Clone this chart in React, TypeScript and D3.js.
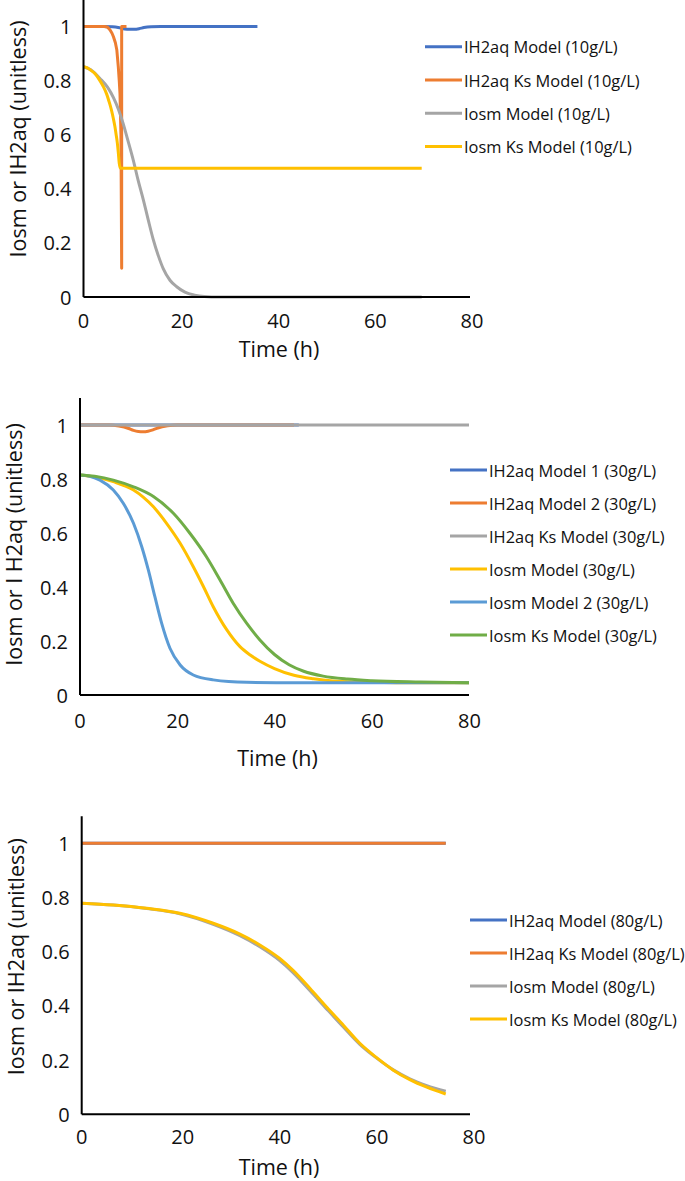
import React from "react";
import * as d3 from "d3";

// ---------- shared ticks ----------
const xTicks = [0, 20, 40, 60, 80];
const yTicks = [0, 0.2, 0.4, 0.6, 0.8, 1];
const yTickLabelsA = ["0", "0.2", "0.4", "0 6", "0.8", "1"];
const yTickLabelsB = ["0", "0.2", "0.4", "0.6", "0.8", "1"];

// ---------- chart 1 (10 g/L) ----------
const c1Names = ["IH2aq Model (10g/L)", "IH2aq Ks Model (10g/L)", "Iosm Model (10g/L)", "Iosm Ks Model (10g/L)"];
const c1BlueT = [0, 4, 6, 7.5, 8.5, 9.5, 10.5, 11.5, 12.5, 14, 16, 20, 25, 30, 36];
const c1BlueV = [1, 1, 0.999, 0.995, 0.991, 0.99, 0.99, 0.992, 0.996, 0.999, 1, 1, 1, 1, 1];
const c1OrangeT = [0, 4.4, 5, 5.5, 5.9, 6.2, 6.6, 6.9, 7.2, 7.4, 7.55, 7.75, 7.9, 7.9, 8.9];
const c1OrangeV = [1, 1, 0.997, 0.987, 0.975, 0.962, 0.94, 0.913, 0.852, 0.8, 0.753, 0.6, 0.106, 1, 1];
const c1GrayT = [0, 1.5, 3.4, 5, 6.2, 7.2, 8.2, 9.2, 10.3, 11.3, 12.4, 13.4, 14.4, 15.5, 16.5, 17.9, 19.3, 21, 23, 25, 28, 40, 55, 70];
const c1GrayV = [0.851, 0.84, 0.808, 0.775, 0.737, 0.695, 0.642, 0.578, 0.506, 0.432, 0.358, 0.285, 0.215, 0.152, 0.105, 0.062, 0.038, 0.018, 0.007, 0.002, 0, 0, 0, 0];
const c1YellowT = [0, 0.7, 1.35, 2.4, 3.4, 4.1, 4.8, 5.3, 5.8, 6.2, 6.5, 6.8, 7.0, 7.2, 7.4, 7.65, 70];
const c1YellowV = [0.851, 0.848, 0.84, 0.825, 0.8, 0.778, 0.75, 0.722, 0.69, 0.658, 0.63, 0.595, 0.57, 0.535, 0.494, 0.476, 0.476];

// ---------- chart 2 (30 g/L) ----------
const c2Names = ["IH2aq Model 1 (30g/L)", "IH2aq Model 2 (30g/L)", "IH2aq Ks Model (30g/L)", "Iosm Model (30g/L)", "Iosm Model 2 (30g/L)", "Iosm Ks Model (30g/L)"];
const c2Blue1T = [0, 45];
const c2Blue1V = [1, 1];
const c2OrangeT = [0, 6, 8, 10, 11, 12, 13, 14, 15, 16, 18, 20, 30, 44];
const c2OrangeV = [1, 1, 0.996, 0.987, 0.98, 0.976, 0.975, 0.977, 0.982, 0.989, 0.997, 1, 1, 1];
const c2GrayT = [0, 80];
const c2GrayV = [1, 1];
const c2YellowT = [0, 3, 6.85, 11, 13, 15.1, 17.8, 20.6, 23.3, 25.4, 27.4, 30.2, 32.9, 35, 37, 40, 44, 48, 52, 60, 70, 80];
const c2YellowV = [0.815, 0.808, 0.79, 0.759, 0.733, 0.697, 0.636, 0.562, 0.475, 0.401, 0.327, 0.241, 0.179, 0.148, 0.125, 0.098, 0.073, 0.06, 0.052, 0.047, 0.045, 0.045];
const c2LightBlueT = [0, 2, 4.1, 6.85, 8.9, 11, 12.7, 14.05, 15.4, 16.8, 18.5, 20.6, 23.3, 27.4, 34.3, 45, 80];
const c2LightBlueV = [0.815, 0.81, 0.796, 0.759, 0.71, 0.636, 0.549, 0.463, 0.364, 0.265, 0.173, 0.111, 0.074, 0.056, 0.047, 0.045, 0.045];
const c2GreenT = [0, 3, 6.85, 11, 15.1, 19.2, 22.6, 26, 28.8, 31.5, 34.3, 37, 40, 43, 46, 50, 55, 60, 70, 80];
const c2GreenV = [0.815, 0.81, 0.796, 0.771, 0.735, 0.673, 0.599, 0.512, 0.426, 0.34, 0.265, 0.204, 0.15, 0.112, 0.088, 0.07, 0.059, 0.053, 0.048, 0.045];

// ---------- chart 3 (80 g/L) ----------
const c3Names = ["IH2aq Model (80g/L)", "IH2aq Ks Model (80g/L)", "Iosm Model (80g/L)", "Iosm Ks Model (80g/L)"];
const c3BlueT = [0, 75];
const c3BlueV = [1, 1];
const c3OrangeT = [0, 75];
const c3OrangeV = [1, 1];
const c3GrayT = [0, 6.5, 13.4, 20.2, 27.1, 32.6, 36.7, 40.8, 43.6, 47, 50.5, 54, 57.3, 60.7, 64.2, 67.6, 71.1, 75];
const c3GrayV = [0.779, 0.772, 0.759, 0.74, 0.701, 0.659, 0.618, 0.567, 0.522, 0.457, 0.388, 0.32, 0.258, 0.208, 0.164, 0.131, 0.106, 0.085];
const c3YellowT = [0, 6.5, 13.4, 20.2, 27.1, 32.6, 36.7, 40.8, 43.6, 47, 50.5, 54, 57.3, 60.7, 64.2, 67.6, 71.1, 75];
const c3YellowV = [0.779, 0.772, 0.76, 0.742, 0.705, 0.665, 0.625, 0.575, 0.53, 0.465, 0.395, 0.327, 0.262, 0.21, 0.163, 0.128, 0.1, 0.075];

const COLORS = {
  blue: "#4472C4",
  orange: "#ED7D31",
  gray: "#A5A5A5",
  yellow: "#FFC000",
  lightBlue: "#5B9BD5",
  green: "#70AD47",
};

type Series = { name: string; color: string; t: number[]; v: number[]; smooth: boolean };

const chart1Series: Series[] = [
  { name: c1Names[0], color: COLORS.blue, t: c1BlueT, v: c1BlueV, smooth: true },
  { name: c1Names[1], color: COLORS.orange, t: c1OrangeT, v: c1OrangeV, smooth: false },
  { name: c1Names[2], color: COLORS.gray, t: c1GrayT, v: c1GrayV, smooth: true },
  { name: c1Names[3], color: COLORS.yellow, t: c1YellowT, v: c1YellowV, smooth: true },
];
const chart2Series: Series[] = [
  { name: c2Names[0], color: COLORS.blue, t: c2Blue1T, v: c2Blue1V, smooth: true },
  { name: c2Names[1], color: COLORS.orange, t: c2OrangeT, v: c2OrangeV, smooth: true },
  { name: c2Names[2], color: COLORS.gray, t: c2GrayT, v: c2GrayV, smooth: true },
  { name: c2Names[3], color: COLORS.yellow, t: c2YellowT, v: c2YellowV, smooth: true },
  { name: c2Names[4], color: COLORS.lightBlue, t: c2LightBlueT, v: c2LightBlueV, smooth: true },
  { name: c2Names[5], color: COLORS.green, t: c2GreenT, v: c2GreenV, smooth: true },
];
const chart3Series: Series[] = [
  { name: c3Names[0], color: COLORS.blue, t: c3BlueT, v: c3BlueV, smooth: true },
  { name: c3Names[1], color: COLORS.orange, t: c3OrangeT, v: c3OrangeV, smooth: true },
  { name: c3Names[2], color: COLORS.gray, t: c3GrayT, v: c3GrayV, smooth: true },
  { name: c3Names[3], color: COLORS.yellow, t: c3YellowT, v: c3YellowV, smooth: true },
];

type Layout = {
  left: number; right: number; y0: number; y1: number; tickDx: number;
  xTickY: number; xTitle: [number, number]; yTitle: [number, number]; yTitleText: string;
  legX: number; legY: number; legStep: number; yLabels: string[];
};

const FONT = "'Open Sans', 'Noto Sans', sans-serif";

const Chart: React.FC<{ series: Series[]; L: Layout }> = ({ series, L }) => {
  const x = d3.scaleLinear().domain([0, 80]).range([L.left, L.right]);
  const y = d3.scaleLinear().domain([0, 1]).range([L.y0, L.y1]);
  const mk = (s: Series) =>
    d3
      .line<number>()
      .x((_, i) => x(s.t[i]))
      .y((d) => y(d))
      .curve(s.smooth ? d3.curveMonotoneX : d3.curveLinear)(s.v) || "";
  return (
    <g>
      {series.map((s, i) => (
        <path key={i} d={mk(s)} fill="none" stroke={s.color} strokeWidth={3} strokeLinejoin="round" />
      ))}
      <line x1={L.left} x2={L.left} y1={y(0)} y2={y(1.1)} stroke="#000" strokeWidth={2} />
      <line x1={L.left} x2={L.right} y1={y(0)} y2={y(0)} stroke="#000" strokeWidth={2} />
      {xTicks.map((t) => (
        <text key={t} x={x(t) + (t === 0 ? 0 : L.tickDx)} y={L.xTickY} textAnchor="middle" dominantBaseline="central" fontSize={20} fontFamily={FONT} fill="#111">
          {t}
        </text>
      ))}
      {yTicks.map((t, i) => (
        <text key={t} x={L.left - 12} y={y(t)} textAnchor="end" dominantBaseline="central" fontSize={20} fontFamily={FONT} fill="#111">
          {L.yLabels[i]}
        </text>
      ))}
      <text x={L.xTitle[0]} y={L.xTitle[1]} textAnchor="middle" dominantBaseline="central" fontSize={21.5} fontFamily={FONT} fill="#111">
        Time (h)
      </text>
      <text transform={`translate(${L.yTitle[0]},${L.yTitle[1]}) rotate(-90)`} textAnchor="middle" dominantBaseline="central" fontSize={21.5} fontFamily={FONT} fill="#111">
        {L.yTitleText}
      </text>
      {series.map((s, i) => (
        <g key={"l" + i} transform={`translate(${L.legX},${L.legY + i * L.legStep})`}>
          <line x1={0} x2={37} y1={0} y2={0} stroke={s.color} strokeWidth={3} />
          <text x={39} y={0} dominantBaseline="central" fontSize={16.4} fontFamily={FONT} fill="#111">
            {s.name}
          </text>
        </g>
      ))}
    </g>
  );
};

const L1: Layout = {
  left: 83.5, right: 470, y0: 297, y1: 26.5, tickDx: 2, xTickY: 320, xTitle: [279, 348], yTitle: [17, 139],
  yTitleText: "Iosm or IH2aq (unitless)", legX: 425, legY: 46.7, legStep: 33.3, yLabels: yTickLabelsA,
};
const L2: Layout = {
  left: 80, right: 469, y0: 695, y1: 425, tickDx: 0.5, xTickY: 720, xTitle: [277.5, 757], yTitle: [13, 544.5],
  yTitleText: "Iosm or I H2aq (unitless)", legX: 450, legY: 470, legStep: 33, yLabels: yTickLabelsB,
};
const L3: Layout = {
  left: 81.7, right: 470, y0: 1114.3, y1: 843.3, tickDx: 4, xTickY: 1136.7, xTitle: [279, 1166.7], yTitle: [15, 956.7],
  yTitleText: "Iosm or IH2aq (unitless)", legX: 470, legY: 920, legStep: 33, yLabels: yTickLabelsB,
};

export default function App() {
  return (
    <svg width={685} height={1181} style={{ position: "absolute", left: 0, top: 0, background: "#fff" }}>
      <rect x={0} y={0} width={685} height={1181} fill="#fff" />
      <Chart series={chart1Series} L={L1} />
      <Chart series={chart2Series} L={L2} />
      <Chart series={chart3Series} L={L3} />
    </svg>
  );
}
